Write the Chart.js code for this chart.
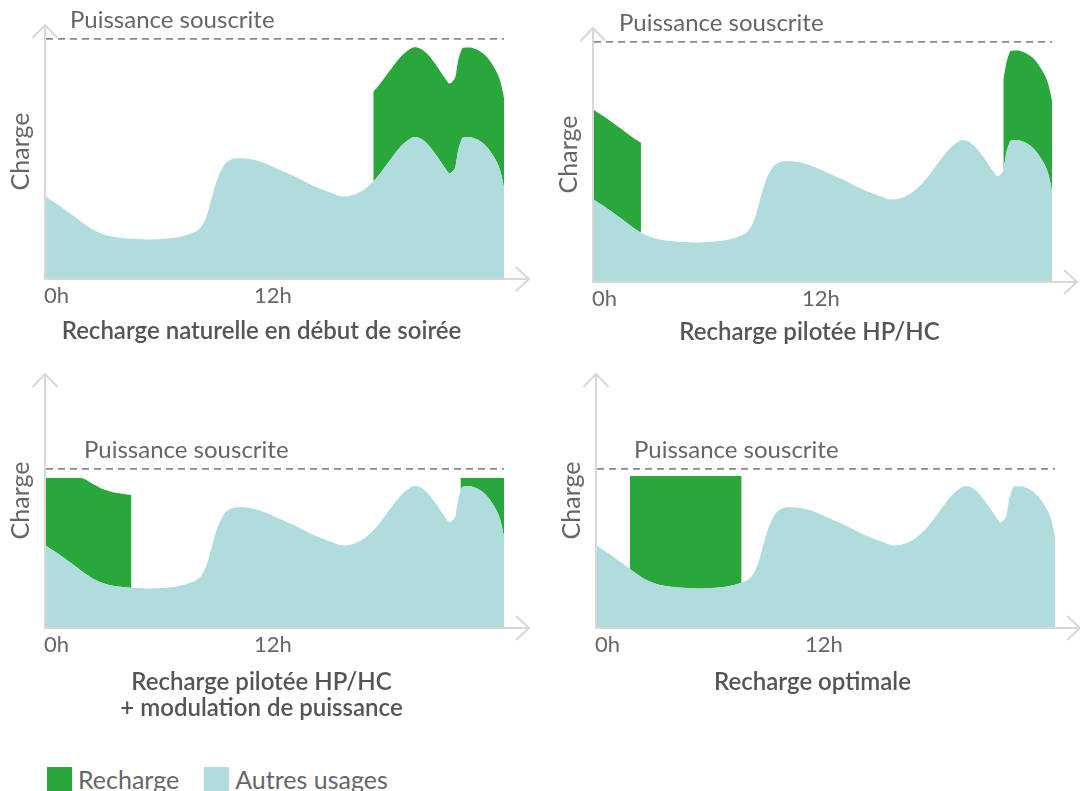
<!DOCTYPE html>
<html lang="fr">
<head>
<meta charset="utf-8">
<title>Recharge des véhicules électriques et puissance souscrite</title>
<script src="https://cdn.jsdelivr.net/npm/chart.js@4.4.1/dist/chart.umd.min.js"></script>
<style>
  html, body { margin: 0; padding: 0; background: #fff; }
  body { width: 1080px; height: 791px; position: relative; overflow: hidden; font-family: Lato, "Open Sans", sans-serif; }
  canvas { position: absolute; }
  .legende { position: absolute; left: 47px; top: 767px; height: 24px; display: flex; align-items: center; font-size: 25px; color: #666; }
  .legende .item { display: flex; align-items: center; margin-right: 25px; }
  .legende .carre { width: 25px; height: 24px; margin-right: 6px; }
</style>
</head>
<body>
<canvas id="c1" width="540" height="365" style="left:0px;top:0px"></canvas>
<canvas id="c2" width="540" height="365" style="left:548px;top:3px"></canvas>
<canvas id="c3" width="540" height="385" style="left:0px;top:349px"></canvas>
<canvas id="c4" width="540" height="365" style="left:551px;top:349px"></canvas>
<div class="legende" id="legende"></div>
<script>
// Heures de la journée (abscisse commune aux quatre profils)
const HOURS = [
  0, 0.5, 1, 1.73, 1.83, 2.46, 3, 3.5, 4, 4.48,
  5, 5.5, 6, 6.5, 7, 7.58, 8, 8.25, 8.5, 8.75,
  9, 9.25, 9.5, 10, 10.5, 11, 12, 13, 14, 15,
  15.6, 16, 16.5, 17, 17.15, 17.5, 18, 18.5, 19, 19.3,
  19.6, 20, 20.5, 20.9, 21.15, 21.3, 21.45, 21.6, 21.72, 21.85,
  22.2, 22.5, 23, 23.5, 23.8, 24
];

// Consommation des autres usages du foyer
const AUTRES_USAGES = [
  32.1, 29.6, 27.0, 22.9, 22.3, 19.1, 17.3, 16.3, 15.8, 15.5,
  15.3, 15.2, 15.4, 15.7, 16.3, 17.6, 19.2, 21.6, 26.5, 33.5,
  39.5, 43.6, 45.9, 47.3, 47.2, 46.5, 43.6, 40.2, 36.5, 33.5,
  32.2, 32.6, 34.2, 37.1, 38.1, 41.2, 46.3, 51.2, 54.6, 55.7,
  55.2, 52.9, 48.0, 43.6, 41.4, 42.2, 44.0, 50.5, 53.6, 55.5,
  55.6, 55.0, 52.6, 47.5, 42.5, 35.8
];

// Puissance de recharge, empilée sur les autres usages
const RECHARGE_SOIREE = [
  null, null, null, null, null, null, null, null, null, null,
  null, null, null, null, null, null, null, null, null, null,
  null, null, null, null, null, null, null, null, null, null,
  null, null, null, null, 35.5, 35.5, 35.5, 35.5, 35.5, 35.5,
  35.5, 35.5, 35.5, 35.5, 35.5, 35.5, 35.5, 35.5, 35.5, 35.5,
  35.5, 35.5, 35.5, 35.5, 35.5, 35.5
];
const RECHARGE_HPHC = [
  35.5, 35.5, 35.5, 35.5, 35.5, 35.5, null, null, null, null,
  null, null, null, null, null, null, null, null, null, null,
  null, null, null, null, null, null, null, null, null, null,
  null, null, null, null, null, null, null, null, null, null,
  null, null, null, null, null, null, 35.5, 35.5, 35.5, 35.5,
  35.5, 35.5, 35.5, 35.5, 35.5, 35.5
];
const RECHARGE_MODULEE = [
  26.8, 29.3, 31.9, 36.0, 36.6, 37.4, 37.1, 37.0, 36.9, 36.7,
  null, null, null, null, null, null, null, null, null, null,
  null, null, null, null, null, null, null, null, null, null,
  null, null, null, null, null, null, null, null, null, null,
  null, null, null, null, null, null, null, null, 5.3, 3.4,
  3.3, 3.9, 6.3, 11.4, 16.4, 23.1
];
const RECHARGE_OPTIMALE = [
  null, null, null, 36.8, 37.4, 40.6, 42.4, 43.4, 43.9, 44.2,
  44.4, 44.5, 44.3, 44.0, 43.4, 42.1, null, null, null, null,
  null, null, null, null, null, null, null, null, null, null,
  null, null, null, null, null, null, null, null, null, null,
  null, null, null, null, null, null, null, null, null, null,
  null, null, null, null, null, null
];

// Niveau de la puissance souscrite dans chaque scénario
const PUISSANCE_SOUSCRITE = [94.5, 94.5, 62.5, 62.5];

// Graduations de l'axe du temps
const TICK_VALUES = [0, 12, 24];
const TICK_LABELS = ['0h', '12h', ''];

// Textes
const TITRES = [
  'Recharge naturelle en début de soirée',
  'Recharge pilotée HP/HC',
  ['Recharge pilotée HP/HC', '+ modulation de puissance'],
  'Recharge optimale'
];
const LEGENDE = ['Recharge', 'Autres usages'];
const LIBELLE_SOUSCRIPTION = 'Puissance souscrite';
const LIBELLE_AXE_Y = 'Charge';

const VERT = '#29a73b';
const TURQUOISE = '#b0dcde';
const GRIS_AXE = '#d8d8d8';
const GRIS_TEXTE = '#666666';

Chart.defaults.font.family = 'Lato, "Open Sans", sans-serif';
Chart.defaults.color = GRIS_TEXTE;

// Axes en flèche (tracés à partir de la zone du graphique)
const flechesAxes = {
  id: 'flechesAxes',
  afterDatasetsDraw(chart) {
    const { ctx, chartArea: a } = chart;
    const x0 = a.left - 1, y0 = a.bottom + 1;
    ctx.save();
    ctx.strokeStyle = GRIS_AXE;
    ctx.lineWidth = 2;
    ctx.lineJoin = 'miter';
    ctx.beginPath();
    ctx.moveTo(x0, y0 + 1);
    ctx.lineTo(x0, a.top);
    ctx.moveTo(x0 - 12.5, a.top + 13);
    ctx.lineTo(x0, a.top);
    ctx.lineTo(x0 + 12.5, a.top + 13);
    ctx.stroke();
    const xt = a.right + 25;
    ctx.beginPath();
    ctx.moveTo(x0 - 1, y0);
    ctx.lineTo(xt, y0);
    ctx.moveTo(xt - 13, y0 - 12);
    ctx.lineTo(xt, y0);
    ctx.lineTo(xt - 13, y0 + 12);
    ctx.stroke();
    ctx.restore();
  }
};

// Libellé au-dessus de la ligne de puissance souscrite
const etiquetteSouscription = {
  id: 'etiquetteSouscription',
  afterDatasetsDraw(chart, args, opts) {
    const { ctx, chartArea } = chart;
    const y = chart.scales.y.getPixelForValue(opts.niveau);
    ctx.save();
    ctx.font = '24px Lato, "Open Sans", sans-serif';
    ctx.fillStyle = GRIS_TEXTE;
    ctx.textBaseline = 'alphabetic';
    ctx.textAlign = 'left';
    ctx.fillText(opts.texte, chartArea.left + opts.dx, y - 11);
    ctx.restore();
  }
};

const PANNEAUX = [
  { id: 'c1', recharge: RECHARGE_SOIREE,   dx: 24, hauteurAxeX: 40 },
  { id: 'c2', recharge: RECHARGE_HPHC,     dx: 25, hauteurAxeX: 38 },
  { id: 'c3', recharge: RECHARGE_MODULEE,  dx: 38, hauteurAxeX: 42 },
  { id: 'c4', recharge: RECHARGE_OPTIMALE, dx: 37, hauteurAxeX: 42 }
];

const HAUTEUR_LIGNE_TITRE = 24 * 1.1;
const BAS_ZONE = 278;

function serie(valeurs) {
  return HOURS.map((h, i) => ({ x: h, y: valeurs[i] }));
}

function dessiner() {
  PANNEAUX.forEach((p, k) => {
    const canvas = document.getElementById(p.id);
    const titre = TITRES[k];
    const lignes = Array.isArray(titre) ? titre.length : 1;
    const basPadding = canvas.height - BAS_ZONE - p.hauteurAxeX - lignes * HAUTEUR_LIGNE_TITRE;
    const niveau = PUISSANCE_SOUSCRITE[k];

    new Chart(canvas, {
      type: 'line',
      data: {
        datasets: [
          {
            label: LEGENDE[1],
            data: serie(AUTRES_USAGES),
            backgroundColor: TURQUOISE,
            borderWidth: 0,
            fill: 'origin',
            stack: 'charge'
          },
          {
            label: LEGENDE[0],
            data: serie(p.recharge),
            backgroundColor: VERT,
            borderWidth: 0,
            fill: '-1',
            stack: 'charge'
          },
          {
            label: LIBELLE_SOUSCRIPTION,
            data: [{ x: HOURS[0], y: niveau }, { x: HOURS[HOURS.length - 1], y: niveau }],
            borderColor: '#8a8a8a',
            borderWidth: 1.6,
            borderDash: [7, 5],
            fill: false,
            stack: 'limite',
            order: -1
          }
        ]
      },
      options: {
        responsive: false,
        devicePixelRatio: 1,
        animation: false,
        events: [],
        cubicInterpolationMode: 'monotone',
        elements: { point: { radius: 0 } },
        layout: { padding: { left: 19, top: 25, right: 36, bottom: basPadding } },
        scales: {
          x: {
            type: 'linear',
            min: 0,
            max: 24,
            grid: { display: false, drawTicks: false },
            border: { display: false },
            afterBuildTicks: s => { s.ticks = TICK_VALUES.map(v => ({ value: v })); },
            afterFit: s => { s.height = p.hauteurAxeX; },
            ticks: {
              align: 'inner',
              padding: 5,
              labelOffset: -2,
              autoSkip: false,
              maxRotation: 0,
              font: { size: 22 },
              color: GRIS_TEXTE,
              callback: v => TICK_LABELS[TICK_VALUES.indexOf(v)] ?? ''
            }
          },
          y: {
            stacked: true,
            min: 0,
            max: 100,
            grid: { display: false, drawTicks: false },
            border: { display: false },
            ticks: { display: false },
            afterFit: s => { s.width = 27; },
            title: {
              display: true,
              text: LIBELLE_AXE_Y,
              font: { size: 25 },
              color: GRIS_TEXTE,
              padding: { top: -13, bottom: 0 }
            }
          }
        },
        plugins: {
          legend: { display: false },
          tooltip: { enabled: false },
          title: {
            display: true,
            position: 'bottom',
            text: titre,
            color: '#555555',
            font: { size: 24, weight: 600, lineHeight: 1.1 },
            padding: 0
          },
          etiquetteSouscription: { niveau: niveau, texte: LIBELLE_SOUSCRIPTION, dx: p.dx }
        }
      },
      plugins: [flechesAxes, etiquetteSouscription]
    });
  });

  // Légende commune
  const legende = document.getElementById('legende');
  [[LEGENDE[0], VERT], [LEGENDE[1], TURQUOISE]].forEach(([texte, couleur]) => {
    const item = document.createElement('div');
    item.className = 'item';
    const carre = document.createElement('span');
    carre.className = 'carre';
    carre.style.background = couleur;
    const libelle = document.createElement('span');
    libelle.textContent = texte;
    item.appendChild(carre);
    item.appendChild(libelle);
    legende.appendChild(item);
  });
}

if (document.fonts && document.fonts.load) {
  Promise.all([
    document.fonts.load('24px Lato'),
    document.fonts.load('600 24px Lato')
  ]).then(dessiner, dessiner);
} else {
  dessiner();
}
</script>
</body>
</html>
